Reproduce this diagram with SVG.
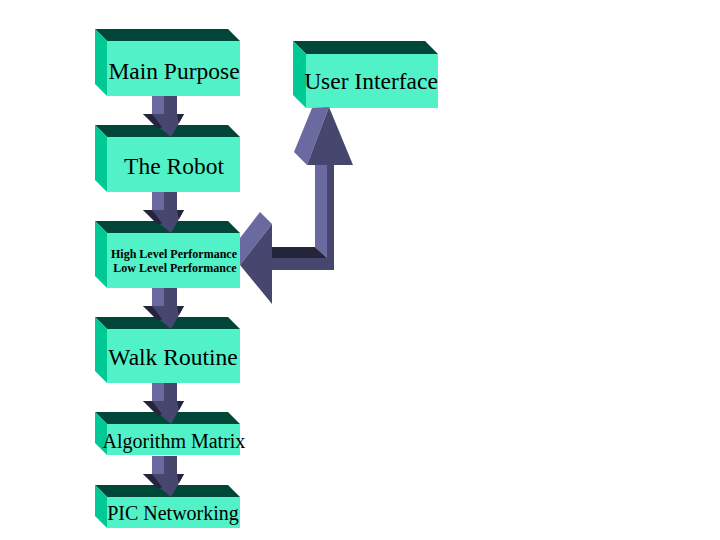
<svg xmlns="http://www.w3.org/2000/svg" width="720" height="540" viewBox="0 0 720 540">
<style>
.front{fill:#52f2c9}
.top{fill:#00473a}
.side{fill:#00c995}
.lt{fill:#6a6aa0}
.dk{fill:#46466e}
.dkk{fill:#24243c}
text{font-family:"Liberation Serif","Times New Roman",serif;fill:#000;text-anchor:middle}
.big{font-size:23.5px}
.mid{font-size:20px}
.sm{font-size:12px;font-weight:bold}
</style>
<rect width="720" height="540" fill="#fff"/>
<g id="main-purpose">
<polygon class="top" points="95,29 228,29 240,41 107,41"/>
<polygon class="side" points="95,29 107,41 107,96 95,84"/>
<rect class="front" x="107" y="41" width="133" height="55"/>
<text class="big" x="174" y="79">Main Purpose</text>
</g>
<g id="the-robot">
<polygon class="top" points="95,125 228,125 240,137 107,137"/>
<polygon class="side" points="95,125 107,137 107,192 95,180"/>
<rect class="front" x="107" y="137" width="133" height="55"/>
<text class="big" x="174" y="174">The Robot</text>
</g>
<g id="performance">
<polygon class="top" points="95,221 228,221 240,233 107,233"/>
<polygon class="side" points="95,221 107,233 107,288 95,276"/>
<rect class="front" x="107" y="233" width="133" height="55"/>
<text class="sm" x="174" y="258">High Level Performance</text>
<text class="sm" x="175" y="272">Low Level Performance</text>
</g>
<g id="walk-routine">
<polygon class="top" points="95,317 228,317 240,329 107,329"/>
<polygon class="side" points="95,317 107,329 107,383 95,371"/>
<rect class="front" x="107" y="329" width="133" height="54"/>
<text class="big" x="173" y="365">Walk Routine</text>
</g>
<g id="algorithm-matrix">
<polygon class="top" points="95,412 228,412 240,424 107,424"/>
<polygon class="side" points="95,412 107,424 107,455 95,443"/>
<rect class="front" x="107" y="424" width="133" height="31"/>
<text class="mid" x="174" y="448">Algorithm Matrix</text>
</g>
<g id="pic-networking">
<polygon class="top" points="95,485 228,485 240,497 107,497"/>
<polygon class="side" points="95,485 107,497 107,528 95,516"/>
<rect class="front" x="107" y="497" width="133" height="31"/>
<text class="mid" x="173" y="520">PIC Networking</text>
</g>
<g id="user-interface">
<polygon class="top" points="293,41 425,41 438,54 306,54"/>
<polygon class="side" points="293,41 306,54 306,108 293,95"/>
<rect class="front" x="306" y="54" width="132" height="54"/>
<text class="big" x="371" y="89">User Interface</text>
</g>
<defs>
<g id="down-arrow">
<rect class="lt" x="152" y="0" width="12" height="19"/>
<rect class="dk" x="164" y="0" width="13" height="19"/>
<polygon class="dk" points="143,18 184,18 171,41"/>
<polygon class="dkk" points="143,18 152,18 162,31 158,33"/>
<polygon class="dkk" points="177,18 184,18 179,27"/>
</g>
</defs>
<g id="connectors">
<use href="#down-arrow" transform="translate(0,96)"/>
<use href="#down-arrow" transform="translate(0,192)"/>
<use href="#down-arrow" transform="translate(0,288)"/>
<use href="#down-arrow" transform="translate(0,383)"/>
<use href="#down-arrow" transform="translate(0,456)"/>
<g id="ui-link">
<rect class="dk" x="327" y="165" width="7" height="105"/>
<polygon class="lt" points="315,165 327,165 327,258 315,247"/>
<rect class="dk" x="272" y="258" width="62" height="12"/>
<polygon class="dkk" points="272,247 315,247 327,258 272,258"/>
<polygon class="lt" points="312,108 329,107 307,165 294,152"/>
<polygon class="dk" points="329,107 353,165 307,165"/>
<polygon class="lt" points="260,212 272,224 240,265 240,238"/>
<polygon class="dk" points="272,224 272,304 240,265"/>
</g>
</g>
</svg>
